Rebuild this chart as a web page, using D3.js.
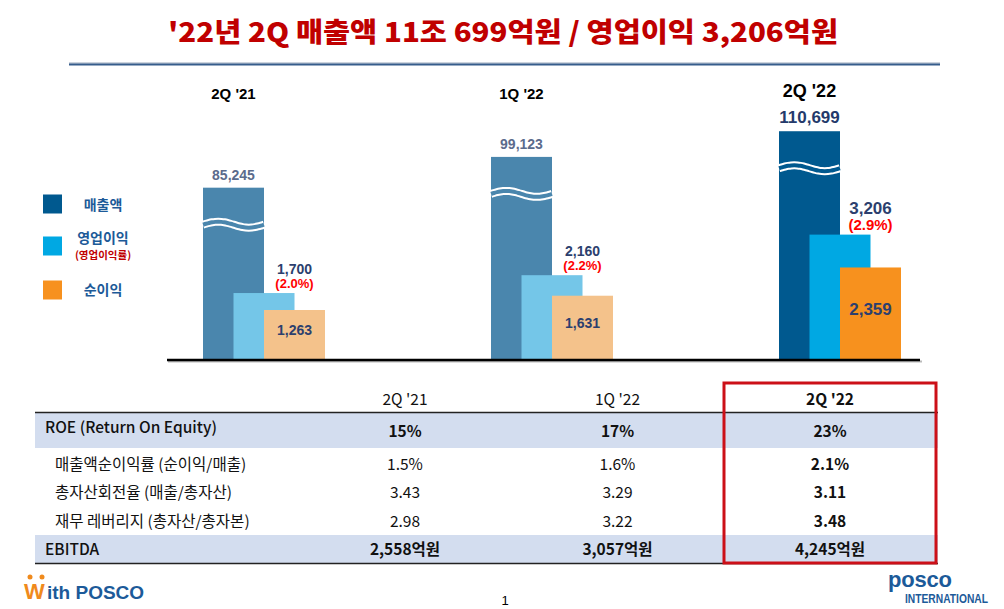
<!DOCTYPE html>
<html>
<head>
<meta charset="utf-8">
<script src="https://cdn.jsdelivr.net/npm/d3@7"></script>
<style>
  body { margin: 0; background: #fff; }
  svg text { font-family: "Liberation Sans", Arial, "Noto Sans CJK KR", sans-serif; }
  .kr { font-family: "Noto Sans CJK KR", "Noto Sans", sans-serif; }
</style>
</head>
<body>
<div id="chart"></div>
<script>
// chart data (억원)
var periods = ["2Q '21", "1Q '22", "2Q '22"];
var sales = [85245, 99123, 110699];
var opProfit = [1700, 2160, 3206];
var opMargin = [2.0, 2.2, 2.9];
var netProfit = [1263, 1631, 2359];

// legend
var legendLabels = ["매출액", "영업이익", "순이익"];

// table data
var rowLabels = ["ROE (Return On Equity)", "매출액순이익률 (순이익/매출)", "총자산회전율 (매출/총자산)", "재무 레버리지 (총자산/총자본)", "EBITDA"];
var roe = [15, 17, 23];
var netMargin = [1.5, 1.6, 2.1];
var assetTurnover = [3.43, 3.29, 3.11];
var leverage = [2.98, 3.22, 3.48];
var ebitda = [2558, 3057, 4245];

var width = 1004, height = 609;

var svg = d3.select("#chart")
  .append("svg")
    .attr("width", width)
    .attr("height", height);

//colors: past quarters are faded, current quarter is full
var pastColors = {sales: "#4a86ad", op: "#74c6e8", net: "#f4c28b"};
var curColors = {sales: "#00598f", op: "#00a8e3", net: "#f7911e"};
function colorsFor(i) { return i === periods.length - 1 ? curColors : pastColors; }

//title
svg.append("text")
  .attr("class", "kr")
  .attr("x", 168).attr("y", 42)
  .attr("textLength", 670)
  .attr("lengthAdjust", "spacingAndGlyphs")
  .style("font-size", "27px")
  .style("font-weight", 900)
  .style("fill", "#c00000")
  .text("'22년 2Q 매출액 11조 699억원 / 영업이익 3,206억원");

svg.append("line")
  .attr("x1", 69).attr("x2", 940).attr("y1", 63).attr("y2", 63)
  .style("stroke", "#9aa8ba").style("stroke-width", 1);
svg.append("line")
  .attr("x1", 69).attr("x2", 940).attr("y1", 64.5).attr("y2", 64.5)
  .style("stroke", "#365d8c").style("stroke-width", 2);

//scales
var baseY = 359;
var x = d3.scalePoint().domain(periods).range([203, 779]);
var keys = ["sales", "op", "net"];
var xSub = d3.scalePoint().domain(keys).range([0, 61]);
var barW = 61;
var y = d3.scaleLinear().domain([0, 5000]).range([baseY, baseY - 194]);
//sales bars use a broken axis
var ySales = d3.scaleLinear().domain([8000, 120000]).range([baseY, baseY - 248.4]);

var groups = svg.append("g").selectAll("g")
  .data(periods)
  .enter().append("g")
    .attr("transform", function(d) { return "translate(" + x(d) + ",0)"; });

groups.each(function(p, i) {
  var g = d3.select(this);
  var c = colorsFor(i);
  var cur = i === periods.length - 1;

  // sales bar
  var sTop = ySales(sales[i]);
  g.append("rect")
    .attr("x", xSub("sales")).attr("y", sTop)
    .attr("width", barW).attr("height", baseY - sTop)
    .style("fill", c.sales);

  // break mark on sales bar
  var wave = d3.line().curve(d3.curveBasis)
    .x(function(t) { return xSub("sales") + t * barW; })
    .y(function(t) { return sTop + 37 - 3 * Math.sin(2 * Math.PI * t); });
  var ts = d3.range(0, 1.0001, 0.05);
  g.append("path").attr("d", wave(ts))
    .style("fill", "none").style("stroke", "#fff").style("stroke-width", 8);
  g.append("path").attr("d", wave(ts))
    .style("fill", "none").style("stroke", c.sales).style("stroke-width", 4);

  // operating profit bar
  var oTop = y(opProfit[i]);
  g.append("rect")
    .attr("x", xSub("op")).attr("y", oTop)
    .attr("width", barW).attr("height", baseY - oTop)
    .style("fill", c.op);

  // net profit bar
  var nTop = y(netProfit[i]);
  g.append("rect")
    .attr("x", xSub("net")).attr("y", nTop)
    .attr("width", barW).attr("height", baseY - nTop)
    .style("fill", c.net);

  // period label
  g.append("text")
    .attr("x", xSub("sales") + barW / 2)
    .attr("y", cur ? 97 : 99)
    .attr("text-anchor", "middle")
    .style("font-size", cur ? "18px" : "15px")
    .style("font-weight", "bold")
    .style("fill", "#000")
    .text(p);

  // value labels
  g.append("text")
    .attr("x", xSub("sales") + barW / 2)
    .attr("y", sTop - 8)
    .attr("text-anchor", "middle")
    .style("font-size", cur ? "17px" : "14px")
    .style("font-weight", "bold")
    .style("fill", cur ? "#243a6b" : "#5b6b8c")
    .text(d3.format(",")(sales[i]));

  g.append("text")
    .attr("x", xSub("op") + barW)
    .attr("y", oTop - (cur ? 21 : 19))
    .attr("text-anchor", "middle")
    .style("font-size", cur ? "17px" : "14px")
    .style("font-weight", "bold")
    .style("fill", "#2c3f6e")
    .text(d3.format(",")(opProfit[i]));

  g.append("text")
    .attr("x", xSub("op") + barW)
    .attr("y", oTop - 5)
    .attr("text-anchor", "middle")
    .style("font-size", cur ? "15px" : "13px")
    .style("font-weight", "bold")
    .style("fill", "#ff0000")
    .text("(" + d3.format(".1f")(opMargin[i]) + "%)");

  g.append("text")
    .attr("x", xSub("net") + barW / 2)
    .attr("y", (nTop + baseY) / 2 - 4)
    .attr("dy", "0.35em")
    .attr("text-anchor", "middle")
    .style("font-size", cur ? "17px" : "14px")
    .style("font-weight", "bold")
    .style("fill", "#2c3f6e")
    .text(d3.format(",")(netProfit[i]));
});

//baseline
svg.append("line")
  .attr("x1", 168).attr("x2", 922).attr("y1", baseY + 2.5).attr("y2", baseY + 2.5)
  .style("stroke", "#bbb").style("stroke-width", 2);
svg.append("line")
  .attr("x1", 167).attr("x2", 920).attr("y1", baseY + 1).attr("y2", baseY + 1)
  .style("stroke", "#000").style("stroke-width", 2.5);

//legend
var legendColors = [curColors.sales, curColors.op, curColors.net];
var legendY = [204, 246, 290];
var legendTextY = [205, 238, 290];
legendLabels.forEach(function(l, i) {
  svg.append("rect")
    .attr("x", 43).attr("y", legendY[i] - 9.5)
    .attr("width", 19).attr("height", 19)
    .style("fill", legendColors[i]);
  svg.append("text")
    .attr("class", "kr")
    .attr("x", 103).attr("y", legendTextY[i])
    .attr("dy", "0.35em")
    .attr("text-anchor", "middle")
    .style("font-size", "14px").style("font-weight", "bold")
    .style("fill", "#1d5a98")
    .text(l);
});
svg.append("text")
  .attr("class", "kr")
  .attr("x", 103).attr("y", 255.5)
  .attr("dy", "0.35em")
  .attr("text-anchor", "middle")
  .style("font-size", "10.5px").style("font-weight", "bold")
  .style("fill", "#c00000")
  .text("(영업이익률)");

//table
var tLeft = 35, tRight = 938;
var colX = d3.scalePoint().domain(periods).range([405, 830]);
var rowY = [430, 465, 493, 522, 550];
var rowValues = [
  roe.map(function(v) { return v + "%"; }),
  netMargin.map(function(v) { return d3.format(".1f")(v) + "%"; }),
  assetTurnover.map(d3.format(".2f")),
  leverage.map(d3.format(".2f")),
  ebitda.map(function(v) { return d3.format(",")(v) + "억원"; })
];

//shaded rows
svg.append("rect").attr("x", tLeft).attr("y", 413).attr("width", tRight - tLeft).attr("height", 35)
  .style("fill", "#d3ddef");
svg.append("rect").attr("x", tLeft).attr("y", 535).attr("width", tRight - tLeft).attr("height", 28)
  .style("fill", "#d3ddef");

svg.append("line").attr("x1", tLeft).attr("x2", tRight).attr("y1", 412.5).attr("y2", 412.5)
  .style("stroke", "#222").style("stroke-width", 1.5);
svg.append("line").attr("x1", tLeft).attr("x2", tRight).attr("y1", 563.5).attr("y2", 563.5)
  .style("stroke", "#222").style("stroke-width", 1.5);

//header
periods.forEach(function(p, j) {
  svg.append("text")
    .attr("class", "kr")
    .attr("x", colX(p)).attr("y", 400).attr("dy", "0.35em")
    .attr("text-anchor", "middle")
    .style("font-size", "15.5px")
    .style("font-weight", j === 2 ? "bold" : "normal")
    .style("fill", "#111")
    .text(p);
});

rowLabels.forEach(function(l, r) {
  var main = r === 0 || r === 4;
  svg.append("text")
    .attr("class", "kr")
    .attr("x", main ? 45 : 55).attr("y", r === 0 ? 428 : rowY[r]).attr("dy", "0.35em")
    .style("font-size", "15.5px")
    .style("font-weight", main ? 500 : "normal")
    .style("fill", "#111")
    .text(l);
  periods.forEach(function(p, j) {
    svg.append("text")
      .attr("class", "kr")
      .attr("x", colX(p)).attr("y", r === 0 ? 432 : rowY[r]).attr("dy", "0.35em")
      .attr("text-anchor", "middle")
      .style("font-size", "15.5px")
      .style("font-weight", (main || j === 2) ? "bold" : "normal")
      .style("fill", "#111")
      .text(rowValues[r][j]);
  });
});

//highlight box for current quarter
svg.append("rect")
  .attr("x", 724).attr("y", 383).attr("width", 212).attr("height", 180)
  .style("fill", "none").style("stroke", "#cc1018").style("stroke-width", 3);

//footer
var logo = svg.append("g");
logo.append("text")
  .attr("x", 24).attr("y", 599)
  .style("font-size", "22px").style("font-weight", "bold")
  .style("fill", "#f08a1c")
  .text("W");
logo.append("circle").attr("cx", 30).attr("cy", 577).attr("r", 2.5).style("fill", "#f08a1c");
logo.append("circle").attr("cx", 42).attr("cy", 577).attr("r", 2.5).style("fill", "#f08a1c");
logo.append("text")
  .attr("x", 47).attr("y", 599)
  .style("font-size", "19px").style("font-weight", "bold")
  .style("fill", "#1c5a99")
  .text("ith POSCO");

svg.append("text")
  .attr("x", 505).attr("y", 605)
  .attr("text-anchor", "middle")
  .style("font-size", "13px")
  .style("fill", "#000")
  .text("1");

svg.append("text")
  .attr("x", 888).attr("y", 587)
  .attr("textLength", 64)
  .style("font-size", "22px")
  .style("font-weight", "bold")
  .style("fill", "#1c5a99")
  .text("posco");
svg.append("text")
  .attr("x", 905).attr("y", 603)
  .attr("textLength", 83)
  .attr("lengthAdjust", "spacingAndGlyphs")
  .style("font-size", "12px").style("font-weight", "bold")
  .style("fill", "#1c5a99")
  .text("INTERNATIONAL");
</script>
</body>
</html>
